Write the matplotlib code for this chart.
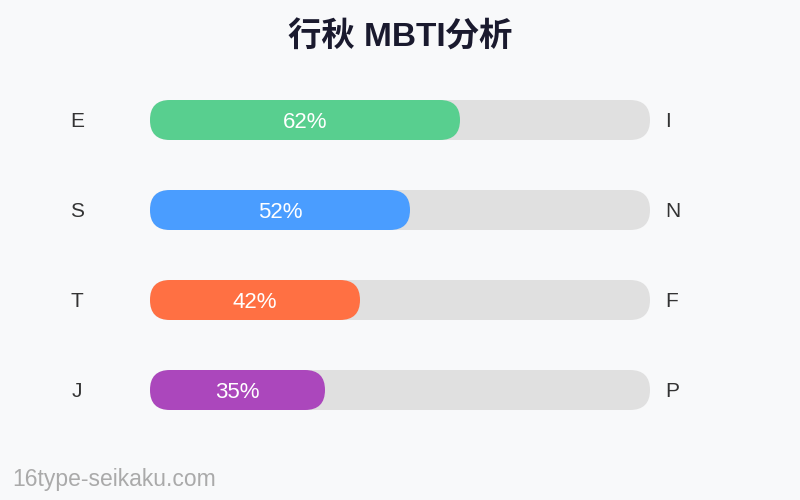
import matplotlib.pyplot as plt
from matplotlib.patches import FancyBboxPatch

plt.rcParams['font.family'] = ['Liberation Sans', 'Noto Sans CJK JP', 'DejaVu Sans']

title = '行秋 MBTI分析'
left_labels = ['E', 'S', 'T', 'J']
right_labels = ['I', 'N', 'F', 'P']
values = [62, 52, 42, 35]
colors = ['#58CF8F', '#4A9DFF', '#FF7043', '#AB47BC']

fig = plt.figure(figsize=(8, 5), dpi=100, facecolor='#F8F9FA')
ax = fig.add_axes([0, 0, 1, 1])
ax.set_xlim(0, 800)
ax.set_ylim(500, 0)
ax.axis('off')

x0, track_w, bar_h = 150, 500, 40
for i, v in enumerate(values):
    yc = 120 + i * 90
    # track
    ax.add_patch(FancyBboxPatch((x0, yc - bar_h / 2), track_w, bar_h,
                                boxstyle='round,pad=0,rounding_size=20',
                                fc='#E0E0E0', ec='none'))
    w = track_w * v / 100
    ax.add_patch(FancyBboxPatch((x0, yc - bar_h / 2), w, bar_h,
                                boxstyle='round,pad=0,rounding_size=20',
                                fc=colors[i], ec='none'))
    ax.text(x0 + w / 2, yc + 7.5, f'{v}%', color='white', fontsize=16,
            ha='center', va='baseline')
    ax.text(77, yc + 7, left_labels[i], color='#333333', fontsize=15,
            ha='center', va='baseline')
    ax.text(665, yc + 7, right_labels[i], color='#333333', fontsize=15,
            ha='left', va='baseline')

ax.text(400, 38, title, color='#1A1A2E', fontsize=24, fontweight='bold',
        ha='center', va='center')
ax.text(12, 486, '16type-seikaku.com', color='#AAAAAA', fontsize=16.5,
        ha='left', va='baseline')

fig.savefig('out.png', dpi=100, facecolor=fig.get_facecolor())
